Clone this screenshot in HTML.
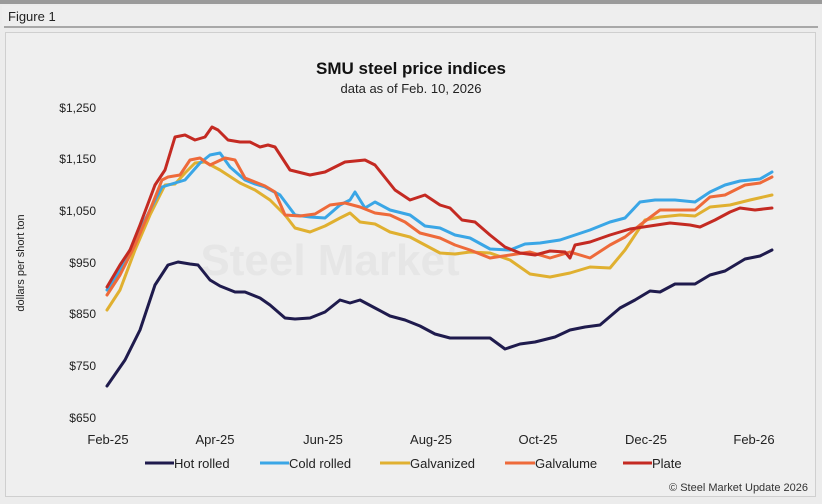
<!DOCTYPE html>
<html><head><style>
body{margin:0;background:#fff;}
svg{display:block;font-family:"Liberation Sans",Arial,sans-serif;}
</style></head><body>
<svg width="822" height="504" viewBox="0 0 822 504" xmlns="http://www.w3.org/2000/svg">
<rect width="822" height="504" fill="#9a9a9a"/>
<rect x="0" y="4" width="822" height="500" fill="#ececec"/>
<rect x="2" y="6" width="818" height="20" fill="#eeeeee"/>
<text x="8" y="21" font-size="13" fill="#222">Figure 1</text>
<rect x="4" y="26" width="814" height="2" fill="#a8a8a8"/>
<rect x="5.5" y="32.5" width="810" height="464" fill="#efefef" stroke="#cfcfcf"/>
<text x="411" y="74" font-size="17" font-weight="bold" text-anchor="middle" fill="#111">SMU steel price indices</text>
<text x="411" y="93" font-size="13" text-anchor="middle" fill="#222">data as of Feb. 10, 2026</text>
<text x="330" y="275" font-size="44" font-weight="bold" fill="#e6e6e6" text-anchor="middle">Steel Market</text>
<g font-size="12" fill="#222" text-anchor="end">
<text x="96" y="112">$1,250</text><text x="96" y="163">$1,150</text><text x="96" y="215">$1,050</text>
<text x="96" y="267">$950</text><text x="96" y="318">$850</text><text x="96" y="370">$750</text><text x="96" y="422">$650</text>
</g>
<text transform="translate(24,263) rotate(-90)" font-size="11" fill="#222" text-anchor="middle">dollars per short ton</text>
<g font-size="13" fill="#222" text-anchor="middle">
<text x="108" y="444">Feb-25</text><text x="215" y="444">Apr-25</text><text x="323" y="444">Jun-25</text>
<text x="431" y="444">Aug-25</text><text x="538" y="444">Oct-25</text><text x="646" y="444">Dec-25</text><text x="754" y="444">Feb-26</text>
</g>
<g fill="none" stroke-width="3" stroke-linejoin="round" stroke-linecap="round">
<polyline stroke="#1f1b4d" points="107,386 125,360 140,330 155,285 168,265 178,262 190,264 198,265 210,280 220,286 235,292 245,292 260,298 270,305 285,318 295,319 310,318 325,312 340,300 350,303 360,300 375,308 390,316 405,320 420,326 435,334 450,338 465,338 490,338 505,349 520,344 535,342 555,337 570,330 585,327 600,325 620,308 635,300 650,291 660,292 675,284 695,284 710,275 725,271 745,259 760,256 772,250"/>
<polyline stroke="#e0b030" points="107,310 120,290 135,250 150,215 165,185 175,184 185,173 195,163 205,162 220,170 240,183 255,190 270,200 285,215 295,228 310,232 325,226 340,218 350,213 360,222 375,224 390,232 410,237 425,245 440,253 455,254 470,252 490,253 510,260 530,274 550,277 570,273 590,267 610,268 625,250 645,220 660,217 680,215 695,216 710,207 730,205 750,200 772,195"/>
<polyline stroke="#3aa6e6" points="107,290 120,270 135,240 150,210 162,187 175,183 185,180 200,163 210,155 220,153 230,167 245,180 255,184 265,187 280,195 295,215 310,217 325,218 340,205 350,200 355,192 365,208 375,202 390,210 410,215 425,226 440,228 455,235 470,238 490,249 510,250 525,244 540,243 560,240 575,235 590,230 610,222 625,218 640,202 655,200 675,200 695,202 710,192 725,185 740,181 760,179 772,172"/>
<polyline stroke="#ee6a3a" points="107,295 120,275 135,245 150,210 162,180 168,177 180,175 190,160 200,158 210,165 225,158 235,160 245,178 255,182 265,186 275,192 285,215 300,216 315,214 330,205 345,203 360,207 375,213 390,215 405,222 420,233 440,238 455,245 470,250 490,258 510,255 530,252 550,258 570,252 590,258 610,245 625,237 640,225 660,210 675,210 695,210 710,197 725,195 745,185 760,183 772,177"/>
<polyline stroke="#c42a22" points="107,287 120,265 130,250 140,225 155,185 165,170 175,137 185,135 195,140 205,137 212,127 218,130 228,140 240,142 250,142 260,147 268,145 275,147 290,170 310,175 325,172 345,162 365,160 375,165 395,190 410,200 425,195 440,205 450,208 462,220 475,222 490,235 505,247 520,253 535,255 550,251 565,252 570,258 575,245 590,242 610,235 630,229 650,226 670,223 690,225 700,227 715,220 730,212 740,208 755,210 772,208"/>
</g>
<g font-size="13" fill="#222">
<line x1="145" y1="463" x2="174" y2="463" stroke="#1f1b4d" stroke-width="3"/><text x="174" y="468">Hot rolled</text>
<line x1="260" y1="463" x2="289" y2="463" stroke="#3aa6e6" stroke-width="3"/><text x="289" y="468">Cold rolled</text>
<line x1="380" y1="463" x2="410" y2="463" stroke="#e0b030" stroke-width="3"/><text x="410" y="468">Galvanized</text>
<line x1="505" y1="463" x2="535" y2="463" stroke="#ee6a3a" stroke-width="3"/><text x="535" y="468">Galvalume</text>
<line x1="623" y1="463" x2="652" y2="463" stroke="#c42a22" stroke-width="3"/><text x="652" y="468">Plate</text>
</g>
<text x="808" y="491" font-size="11" fill="#333" text-anchor="end">© Steel Market Update 2026</text>
</svg>
</body></html>
